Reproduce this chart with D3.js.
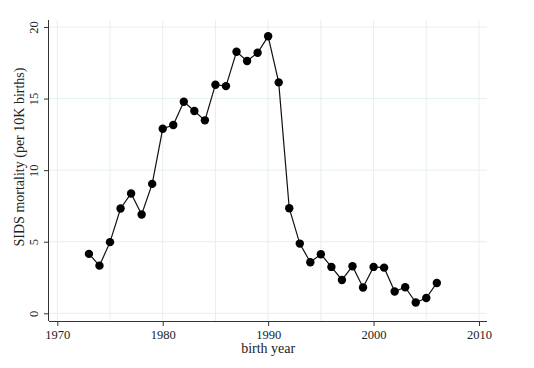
<!DOCTYPE html>
<html><head><meta charset="utf-8">
<script src="https://cdn.jsdelivr.net/npm/d3@7"></script>
<style>body{margin:0;background:#fff}svg{display:block}text{font-family:"Liberation Serif",serif;fill:#222}</style>
</head><body><svg id="c" width="534" height="368"></svg>
<script>
const years = [1973,1974,1975,1976,1977,1978,1979,1980,1981,1982,1983,1984,1985,1986,1987,1988,1989,1990,1991,1992,1993,1994,1995,1996,1997,1998,1999,2000,2001,2002,2003,2004,2005,2006];
const sids = [4.15,3.33,4.97,7.32,8.37,6.9,9.04,12.89,13.15,14.78,14.13,13.48,15.97,15.87,18.27,17.62,18.2,19.35,16.13,7.34,4.87,3.57,4.13,3.24,2.33,3.29,1.8,3.24,3.19,1.52,1.82,0.75,1.07,2.12];
const xTicks = [1970,1980,1990,2000,2010];
const xGrid = [1970,1975,1980,1985,1990,1995,2000,2005,2010];
const yTicks = [0,5,10,15,20];

const svg = d3.select("#c");
const L=49, R=487, T=20, B=321;
const x = d3.scaleLinear().domain([1970,2010]).range([57.3,479]);
const y = d3.scaleLinear().domain([0,20]).range([313.3,27]);

const g = svg.append("g");
g.selectAll(".vg").data(xGrid).join("line").attr("x1",d=>x(d)).attr("x2",d=>x(d)).attr("y1",T).attr("y2",B).attr("stroke","#e6eff1").attr("stroke-width",1);
g.selectAll(".hg").data(yTicks).join("line").attr("y1",d=>y(d)).attr("y2",d=>y(d)).attr("x1",L).attr("x2",R).attr("stroke","#e6eff1").attr("stroke-width",1);

const xa = svg.append("g").attr("transform",`translate(0,${B})`).call(d3.axisBottom(x).tickValues(xTicks).tickFormat(d3.format("d")).tickSize(5).tickPadding(4));
xa.select(".domain").attr("d",`M${L},0.5H${R}`);
const ya = svg.append("g").attr("transform",`translate(${L},0)`).call(d3.axisLeft(y).tickValues(yTicks).tickSize(5).tickPadding(4));
ya.select(".domain").attr("d",`M-0.5,${T}V${B}`);
[xa,ya].forEach(a=>{a.selectAll("path,line").attr("stroke","#333");a.selectAll("text").style("font-size","12.5px").attr("fill","#222").style("font-family","Liberation Serif");});
ya.selectAll(".tick text").attr("transform","rotate(-90)").attr("x",0).attr("y",-11).attr("dy","0").attr("text-anchor","middle");
xa.selectAll(".tick text").attr("y",18).attr("dy","0");

svg.append("path").datum(years.map((d,i)=>[d,sids[i]])).attr("fill","none").attr("stroke","#111").attr("stroke-width",1.2)
  .attr("d",d3.line().x(d=>x(d[0])).y(d=>y(d[1])));
svg.selectAll(".pt").data(years.map((d,i)=>[d,sids[i]])).join("circle").attr("cx",d=>x(d[0])).attr("cy",d=>y(d[1])).attr("r",4.2).attr("fill","#000");

svg.append("text").attr("x",(x(1990))).attr("y",353).attr("text-anchor","middle").style("font-size","14px").text("birth year");
svg.append("text").attr("transform","translate(24,157) rotate(-90)").attr("text-anchor","middle").style("font-size","14px").text("SIDS mortality (per 10K births)");
</script></body></html>
